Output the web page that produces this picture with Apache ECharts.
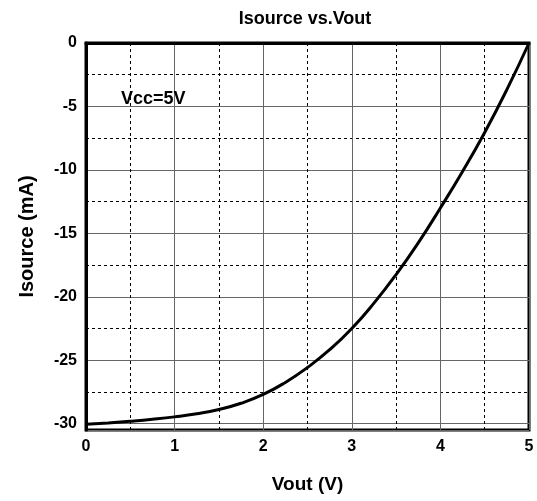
<!DOCTYPE html>
<html><head><meta charset="utf-8">
<script src="https://cdn.jsdelivr.net/npm/echarts@6/dist/echarts.min.js"></script>
<style>html,body{margin:0;padding:0;background:#fff}#c{width:537px;height:501px}</style>
</head><body><div id="c"></div>
<script>
const vout = [0, 0.25, 0.5, 0.75, 1.0, 1.25, 1.5, 1.75, 2.0, 2.25, 2.5, 2.75, 3.0, 3.25, 3.5, 3.75, 4.0, 4.25, 4.5, 4.75, 5.0];
const isource = [-30.05, -29.94, -29.81, -29.655, -29.465, -29.22, -28.88, -28.395, -27.7, -26.75, -25.575, -24.175, -22.5, -20.5, -18.25, -15.75, -13.0, -10.125, -7.05, -3.675, 0];
const titleText = 'Isource vs.Vout';
const xName = 'Vout (V)';
const yName = 'Isource (mA)';
const noteText = 'Vcc=5V';

const FONT = '"Liberation Sans", Arial, sans-serif';
const chart = echarts.init(document.getElementById('c'), null, {renderer: 'canvas'});
chart.setOption({
  animation: false,
  backgroundColor: '#fff',
  title: [
    {text: titleText, left: 300, top: 5, textAlign: 'center',
     textStyle: {fontFamily: FONT, fontWeight: 'bold', fontSize: 18, color: '#000'}},
    {text: noteText, left: 116, top: 85,
     textStyle: {fontFamily: FONT, fontWeight: 'bold', fontSize: 18, color: '#000'}}
  ],
  grid: {left: 86, right: 8, top: 43, bottom: 71, show: true, borderColor: '#000', borderWidth: 3, containLabel: false},
  xAxis: {
    type: 'value', min: 0, max: 5, interval: 1,
    name: xName, nameLocation: 'middle', nameGap: 45,
    nameTextStyle: {fontFamily: FONT, fontWeight: 'bold', fontSize: 19, color: '#000'},
    axisLine: {show: true, lineStyle: {color: '#000', width: 3}},
    axisTick: {show: false},
    axisLabel: {fontFamily: FONT, fontWeight: 'bold', fontSize: 16, color: '#000', margin: 9},
    splitLine: {show: true, lineStyle: {color: '#666', width: 1}},
    minorTick: {show: false, splitNumber: 2},
    minorSplitLine: {show: true, lineStyle: {color: '#000', width: 1, type: [3, 3]}}
  },
  yAxis: {
    type: 'value', min: -30.5, max: 0,
    name: yName, nameLocation: 'middle', nameGap: 49,
    nameTextStyle: {fontFamily: FONT, fontWeight: 'bold', fontSize: 20, color: '#000'},
    axisLine: {show: true, lineStyle: {color: '#000', width: 3}},
    axisTick: {show: false},
    axisLabel: {fontFamily: FONT, fontWeight: 'bold', fontSize: 16, color: '#000', margin: 9, showMinLabel: false,
      formatter: v => (Math.abs(v % 5) < 1e-9 ? String(v) : '')},
    splitLine: {show: true, lineStyle: {color: '#666', width: 1}},
    minorTick: {show: false, splitNumber: 2},
    minorSplitLine: {show: true, lineStyle: {color: '#000', width: 1, type: [3, 3]}}
  },
  series: [{
    type: 'line', data: vout.map((v, i) => [v, isource[i]]),
    smooth: 0.5, showSymbol: false, clip: false,
    lineStyle: {color: '#000', width: 3}
  }]
});
</script></body></html>
